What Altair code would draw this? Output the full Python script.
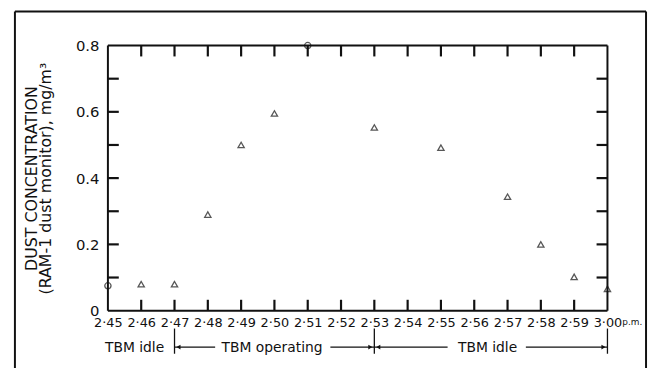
import altair as alt
import pandas as pd

# ---- data ----
minute_labels = ["2·45", "2·46", "2·47", "2·48", "2·49", "2·50", "2·51", "2·52",
                 "2·53", "2·54", "2·55", "2·56", "2·57", "2·58", "2·59", "3·00"]
minutes = [0, 1, 2, 3, 4, 5, 6, 8, 10, 12, 13, 14, 15]
conc = [0.075, 0.08, 0.08, 0.29, 0.50, 0.595, 0.80, 0.553, 0.492, 0.344, 0.20, 0.102, 0.066]
markers = ["circle", "triangle-up", "triangle-up", "triangle-up", "triangle-up", "triangle-up",
           "circle", "triangle-up", "triangle-up", "triangle-up", "triangle-up", "triangle-up",
           "triangle-up"]
y_tick_vals = [0.1, 0.2, 0.3, 0.4, 0.5, 0.6, 0.7]
x_tick_vals = [1, 2, 3, 4, 5, 6, 7, 8, 9, 10, 11, 12, 13, 14]
y_label_vals = [0, 0.2, 0.4, 0.6, 0.8]

# phase annotations (minutes after 2:45)
phase_bounds = [2, 8, 15]
phase_texts = ["TBM idle", "TBM operating", "TBM idle"]
phase_text_x = [0.8, 4.93, 11.4]
arrow_segments = [(2, 3.22), (6.68, 8), (8, 10.2), (12.55, 15)]
arrow_heads = [(2.12, "triangle-left"), (7.88, "triangle-right"),
               (8.12, "triangle-left"), (14.88, "triangle-right")]

W, H = 505, 268
TL = 11  # inward tick length, px
INK = "#111111"
FONT = "DejaVu Sans"

xs = alt.Scale(domain=[0, 15], nice=False, zero=False)
ys = alt.Scale(domain=[0, 0.8], nice=False)

label_array = "[" + ",".join("'" + s + "'" for s in minute_labels) + "]"
x_axis = alt.Axis(values=list(range(16)), labelExpr=label_array + "[datum.value]",
                  title=None, ticks=False, domain=False, grid=False,
                  labelFont=FONT, labelFontSize=13, labelColor=INK, labelPadding=6,
                  labelFlush=False, labelOverlap=False)
y_axis = alt.Axis(values=y_label_vals,
                  labelExpr="datum.value == 0 ? '0' : format(datum.value, '.1f')",
                  title=["DUST CONCENTRATION", "(RAM-1 dust monitor), mg/m³"],
                  titleFont=FONT, titleFontSize=16, titleFontWeight="normal",
                  titleColor=INK, titlePadding=22, titleLineHeight=14,
                  ticks=False, domain=False, grid=False,
                  labelFont=FONT, labelFontSize=15, labelColor=INK, labelPadding=9,
                  labelFlush=False)


def X(f="x"):
    return alt.X(f + ":Q", scale=xs, axis=x_axis)


def Y(f="y"):
    return alt.Y(f + ":Q", scale=ys, axis=y_axis)


pts = pd.DataFrame({"x": minutes, "y": conc, "m": markers})
points = alt.Chart(pts).mark_point(filled=False, color=INK, strokeWidth=1.3, size=40).encode(
    x=X(), y=Y(),
    shape=alt.Shape("m:N", scale=None, legend=None),
)

# inward ticks on all four sides (tick marks centred half a length inside the frame)
xb = pd.DataFrame({"x": x_tick_vals, "y": [0.0] * len(x_tick_vals)})
xtop = pd.DataFrame({"x": x_tick_vals, "y": [0.8] * len(x_tick_vals)})
yl = pd.DataFrame({"x": [0.0] * len(y_tick_vals), "y": y_tick_vals})
yr = pd.DataFrame({"x": [15.0] * len(y_tick_vals), "y": y_tick_vals})
bottom_ticks = alt.Chart(xb).mark_tick(color=INK, thickness=2.2, size=TL, orient="vertical",
                                       yOffset=-TL / 2, opacity=1).encode(x=X(), y=Y())
top_ticks = alt.Chart(xtop).mark_tick(color=INK, thickness=2.2, size=TL, orient="vertical",
                                      yOffset=TL / 2, opacity=1).encode(x=X(), y=Y())
left_ticks = alt.Chart(yl).mark_tick(color=INK, thickness=2.2, size=TL, orient="horizontal",
                                     xOffset=TL / 2, opacity=1).encode(x=X(), y=Y())
right_ticks = alt.Chart(yr).mark_tick(color=INK, thickness=2.2, size=TL, orient="horizontal",
                                      xOffset=-TL / 2, opacity=1).encode(x=X(), y=Y())

# annotations below axis
ann_y = -0.110
vlines = alt.Chart(pd.DataFrame({"x": phase_bounds, "y": [-0.054] * 3, "y2": [-0.130] * 3})) \
    .mark_rule(color=INK, strokeWidth=1.3).encode(x=X(), y=Y(), y2="y2:Q")
hsegs = alt.Chart(pd.DataFrame({"x": [a for a, b in arrow_segments],
                                "x2": [b for a, b in arrow_segments],
                                "y": [ann_y] * len(arrow_segments)})) \
    .mark_rule(color=INK, strokeWidth=1.3).encode(x=X(), x2="x2:Q", y=Y())
heads = alt.Chart(pd.DataFrame({"x": [a for a, s in arrow_heads],
                                "y": [ann_y] * len(arrow_heads),
                                "s": [s for a, s in arrow_heads]})) \
    .mark_point(filled=True, color=INK, size=22, opacity=1).encode(
        x=X(), y=Y(), shape=alt.Shape("s:N", scale=None, legend=None))
texts = alt.Chart(pd.DataFrame({"x": phase_text_x, "y": [ann_y] * 3, "t": phase_texts})) \
    .mark_text(font=FONT, fontSize=14, color=INK, baseline="middle", dy=1).encode(
        x=X(), y=Y(), text="t:N")
pm = alt.Chart(pd.DataFrame({"x": [15], "y": [-0.034], "t": ["p.m."]})) \
    .mark_text(font=FONT, fontSize=9, color=INK, align="left", baseline="middle", dx=15).encode(
        x=X(), y=Y(), text="t:N")

# plot border and outer figure frame (decoration)
one = pd.DataFrame({"k": [0]})
frame = [
    alt.Chart(one).mark_rule(color=INK, strokeWidth=2).encode(
        x=alt.value(0), x2=alt.value(W), y=alt.value(0)),
    alt.Chart(one).mark_rule(color=INK, strokeWidth=2).encode(
        x=alt.value(0), x2=alt.value(W), y=alt.value(H)),
    alt.Chart(one).mark_rule(color=INK, strokeWidth=2).encode(
        x=alt.value(0), y=alt.value(0), y2=alt.value(H)),
    alt.Chart(one).mark_rule(color=INK, strokeWidth=2).encode(
        x=alt.value(W), y=alt.value(0), y2=alt.value(H)),
    alt.Chart(one).mark_rule(color=INK, strokeWidth=2).encode(
        x=alt.value(-94), y=alt.value(-34.5), y2=alt.value(H + 60)),
    alt.Chart(one).mark_rule(color=INK, strokeWidth=2).encode(
        x=alt.value(-94), x2=alt.value(544), y=alt.value(-34.5)),
    alt.Chart(one).mark_rule(color=INK, strokeWidth=2).encode(
        x=alt.value(544), y=alt.value(-34.5), y2=alt.value(H + 60)),
]

chart = alt.layer(points, vlines, hsegs, heads, texts, pm, *frame,
                  bottom_ticks, top_ticks, left_ticks, right_ticks).properties(
    width=W, height=H,
    autosize=alt.AutoSizeParams(type="none"),
    padding={"left": 101, "top": 36, "right": 42, "bottom": 56},
    background="white",
).configure_view(strokeWidth=0)

chart.save("out.html", embed_options={"renderer": "svg", "actions": False})
